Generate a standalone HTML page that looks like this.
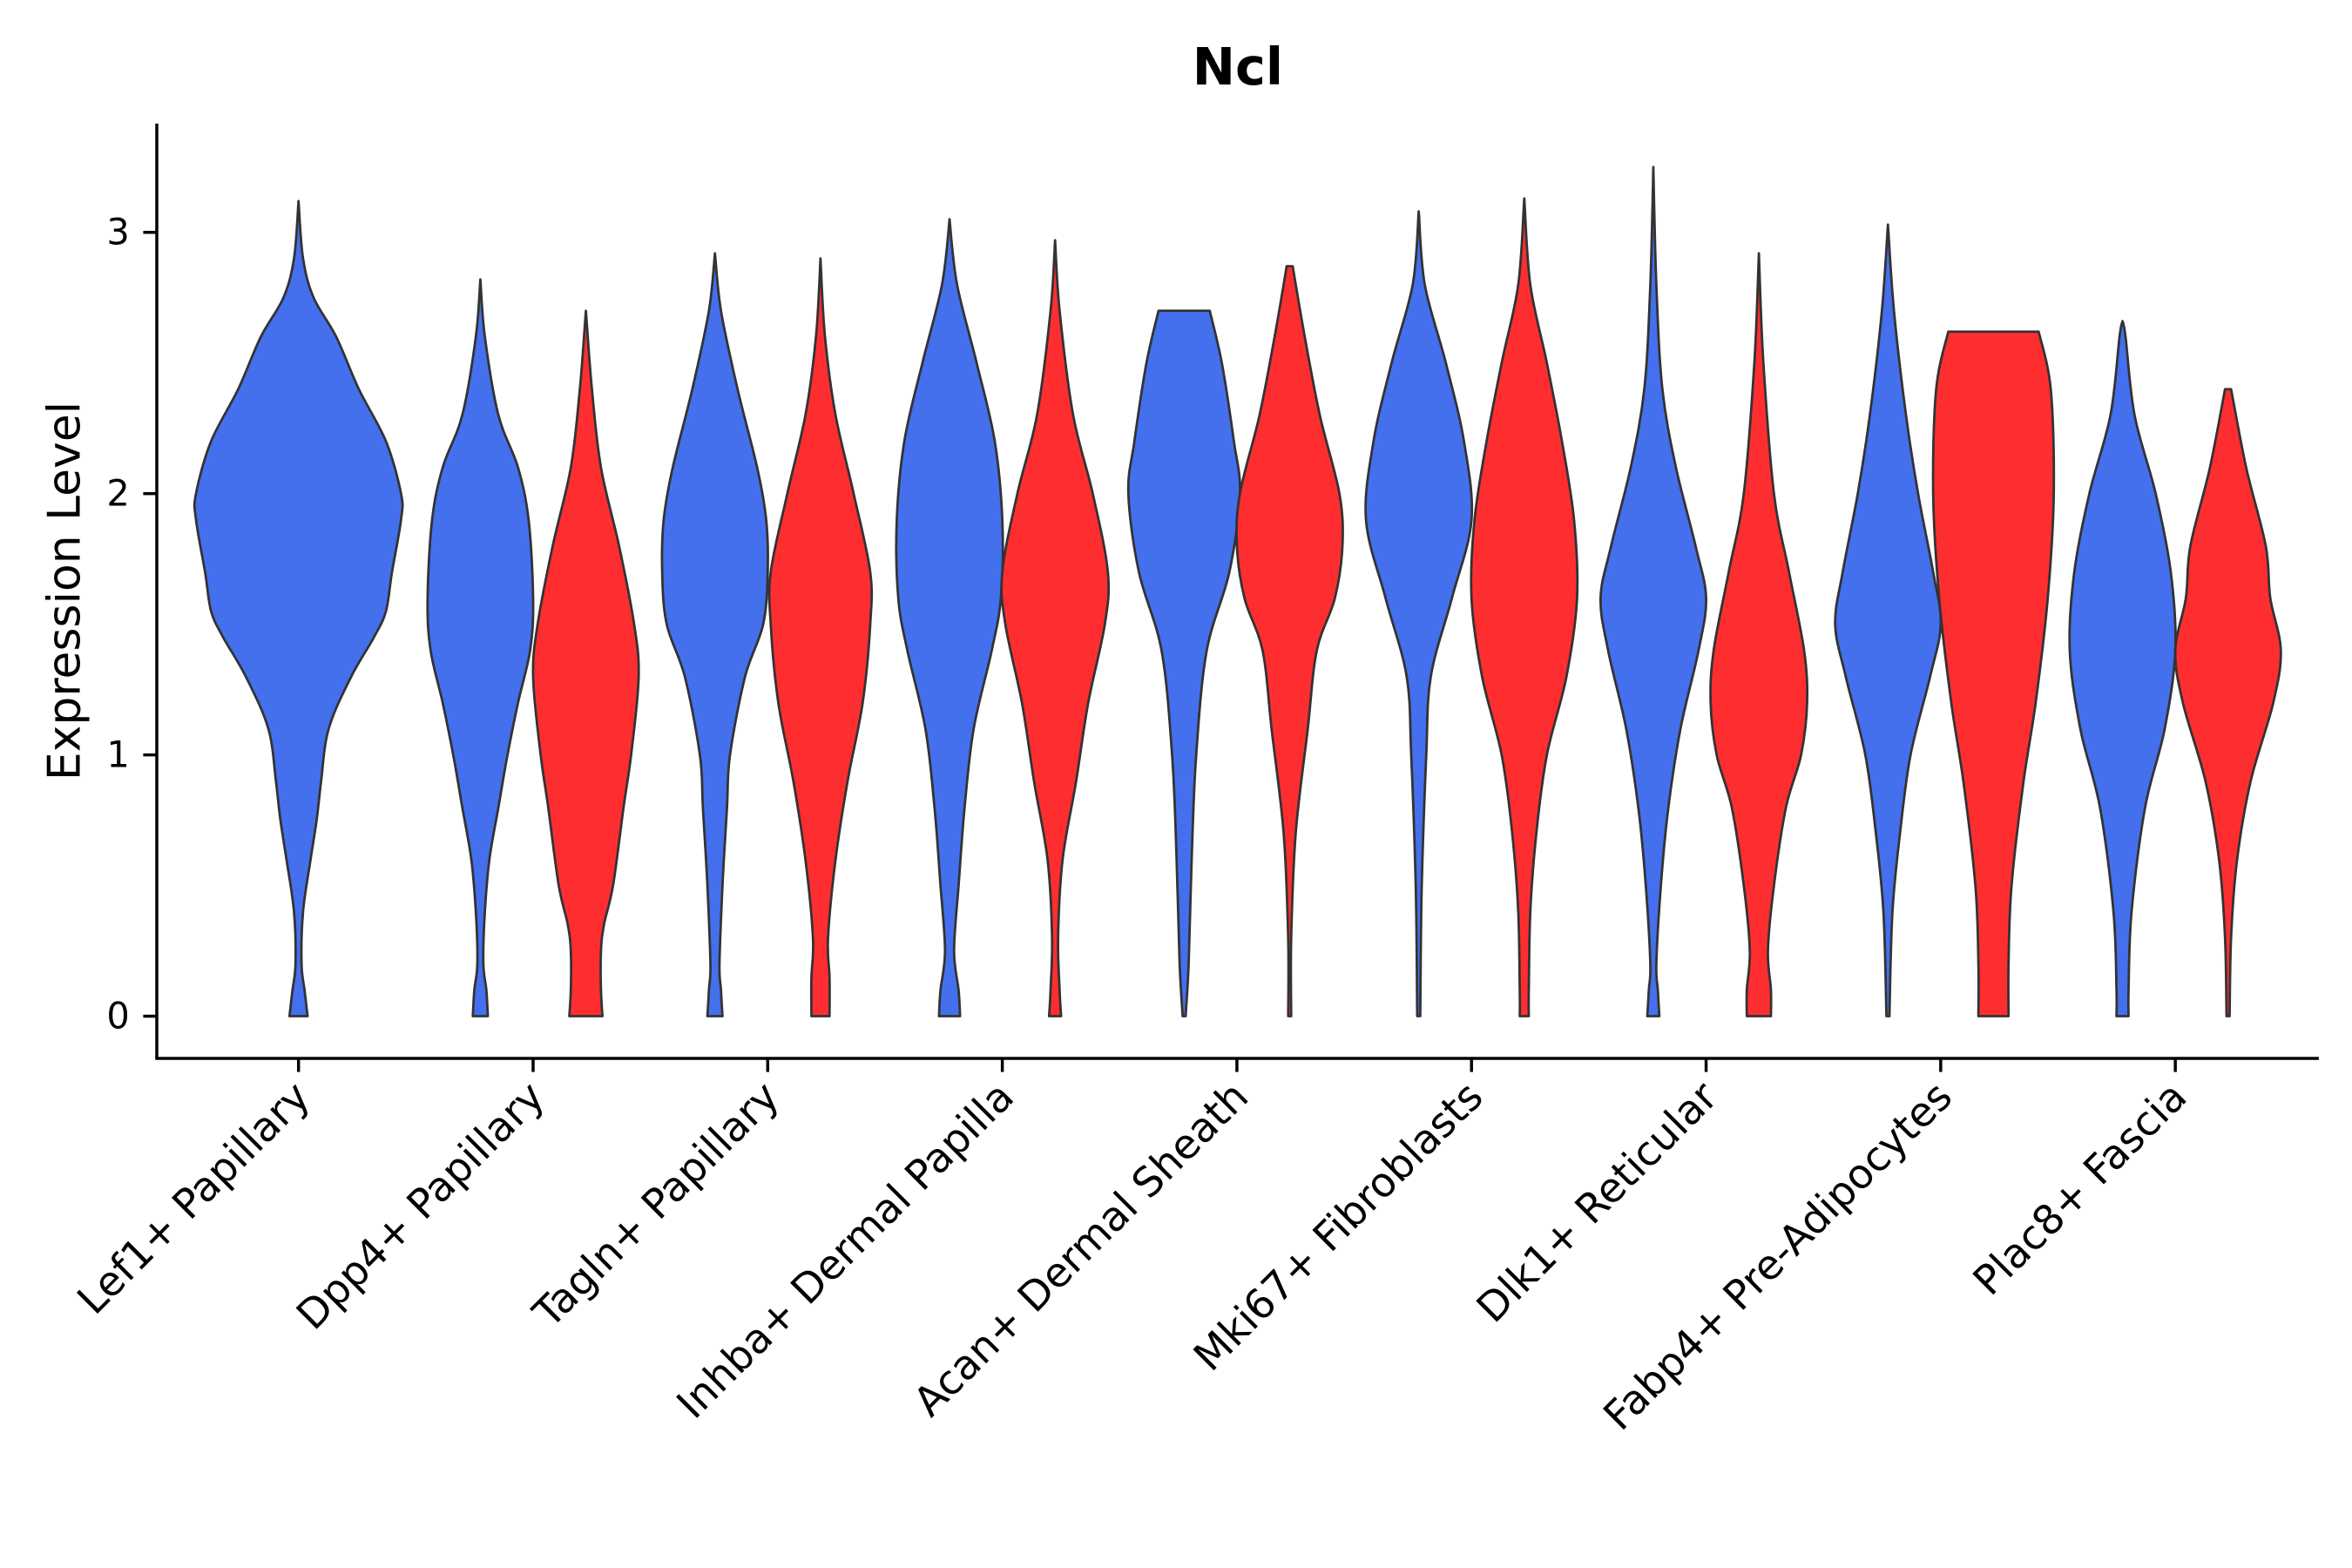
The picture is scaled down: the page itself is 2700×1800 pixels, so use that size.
<!DOCTYPE html>
<html><head><meta charset="utf-8"><style>
html,body{margin:0;padding:0;background:#fff;}
svg{display:block;font-family:"DejaVu Sans","Liberation Sans",sans-serif;}
</style></head><body>
<svg id="chart" width="2700" height="1800" viewBox="0 0 1560 1040" xmlns="http://www.w3.org/2000/svg">
<rect width="1560" height="1040" fill="#fff"/>
<text x="821" y="56" text-anchor="middle" font-size="34" font-weight="bold">Ncl</text>
<text transform="translate(53,392) rotate(-90)" text-anchor="middle" font-size="30">Expression Level</text>
<g id="marks"></g>
<line x1="104" y1="82" x2="104" y2="702" stroke="#000" stroke-width="2"/>
<line x1="103" y1="702" x2="1538" y2="702" stroke="#000" stroke-width="2"/>
<g id="axes"></g>
</svg>
<script>
const categories = ["Lef1+ Papillary","Dpp4+ Papillary","Tagln+ Papillary","Inhba+ Dermal Papilla","Acan+ Dermal Sheath","Mki67+ Fibroblasts","Dlk1+ Reticular","Fabp4+ Pre-Adipocytes","Plac8+ Fascia"];
const yTicks = [0,1,2,3];
// violin profiles: [expression value, density half-width]
const blueProfiles = [
 [[3.12,0],[2.9,3],[2.75,10],[2.6,25],[2.4,40],[2.2,58],[2.0,68],[1.9,68],[1.7,62],[1.55,58],[1.45,50],[1.3,35],[1.1,20],[0.9,15],[0.75,12],[0.6,8],[0.4,3],[0.2,2],[0.1,4],[0,6]],
 [[2.82,0],[2.6,3],[2.3,12],[2.1,25],[1.9,32],[1.6,35],[1.4,33],[1.2,25],[1.0,18],[0.8,12],[0.6,6],[0.4,3],[0.2,2],[0.1,4],[0,5]],
 [[2.92,0],[2.7,4],[2.4,15],[2.1,28],[1.9,34],[1.7,35],[1.5,32],[1.3,20],[1.0,10],[0.8,8],[0.5,5],[0.2,3],[0.1,4],[0,5]],
 [[3.05,0],[2.8,5],[2.5,18],[2.2,30],[1.9,35],[1.6,34],[1.4,28],[1.1,16],[0.8,10],[0.5,6],[0.25,3],[0.1,6],[0,7]],
 [[2.7,17],[2.5,25],[2.2,33],[2.0,37],[1.7,30],[1.4,15],[1.0,8],[0.6,5],[0.2,3],[0,1]],
 [[3.08,0],[2.8,4],[2.5,18],[2.2,30],[1.9,35],[1.6,22],[1.3,8],[1.0,5],[0.5,2],[0,1]],
 [[3.25,0],[2.8,2],[2.4,6],[2.1,15],[1.8,28],[1.6,35],[1.4,30],[1.1,18],[0.8,10],[0.5,5],[0.2,2],[0.1,3],[0,4]],
 [[3.03,0],[2.7,4],[2.3,12],[2.0,20],[1.7,30],[1.5,35],[1.3,28],[1.0,15],[0.7,8],[0.4,3],[0,1]],
 [[2.66,0],[2.6,2],[2.3,8],[2.0,22],[1.7,32],[1.4,35],[1.1,28],[0.8,15],[0.4,6],[0.1,4],[0,4]]
];
const redProfiles = [
 null,
 [[2.7,0],[2.4,4],[2.1,10],[1.8,22],[1.5,32],[1.3,35],[1.0,30],[0.8,25],[0.5,18],[0.35,12],[0.25,10],[0.1,10],[0,11]],
 [[2.9,0],[2.6,3],[2.3,10],[2.0,22],[1.7,33],[1.5,33],[1.2,28],[0.9,18],[0.6,10],[0.3,5],[0.15,6],[0,6]],
 [[2.97,0],[2.7,3],[2.3,12],[2.0,25],[1.7,35],[1.5,33],[1.2,22],[0.9,14],[0.6,5],[0.3,2],[0.1,3],[0,4]],
 [[2.87,2],[2.6,10],[2.3,20],[2.0,33],[1.8,35],[1.6,30],[1.4,18],[1.1,12],[0.7,4],[0.3,1],[0,1]],
 [[3.13,0],[2.8,4],[2.5,15],[2.2,25],[1.9,33],[1.6,35],[1.3,28],[1.0,15],[0.7,8],[0.4,4],[0.1,3],[0,3]],
 [[2.92,0],[2.5,3],[2.0,10],[1.7,20],[1.4,30],[1.2,32],[1.0,28],[0.8,18],[0.5,10],[0.25,6],[0.1,8],[0,8]],
 [[2.62,30],[2.4,38],[2.0,40],[1.6,36],[1.2,28],[0.9,20],[0.5,12],[0.2,10],[0,10]],
 [[2.4,2],[2.1,12],[1.8,25],[1.6,28],[1.4,35],[1.2,30],[0.9,15],[0.6,6],[0.3,2],[0,1]]
];
const NS="http://www.w3.org/2000/svg";
const x0=198, step=155.6, off=35;
function xScale(i){return x0+i*step;}
function yScale(v){return 674 - v*173.3;}
const marks=document.getElementById('marks'), axes=document.getElementById('axes');
function smooth(pts){
  let d='';
  for(let i=0;i<pts.length-1;i++){
    const p0=pts[Math.max(0,i-1)],p1=pts[i],p2=pts[i+1],p3=pts[Math.min(pts.length-1,i+2)];
    const c1=[p1[0]+(p2[0]-p0[0])/6,p1[1]+(p2[1]-p0[1])/6];
    const c2=[p2[0]-(p3[0]-p1[0])/6,p2[1]-(p3[1]-p1[1])/6];
    d+=' C'+c1[0].toFixed(1)+','+c1[1].toFixed(1)+' '+c2[0].toFixed(1)+','+c2[1].toFixed(1)+' '+p2[0].toFixed(1)+','+p2[1].toFixed(1);
  }
  return d;
}
function violin(prof,cx,color,name){
  const R=prof.map(p=>[cx+p[1],yScale(p[0])]);
  const L=prof.map(p=>[cx-p[1],yScale(p[0])]).reverse();
  let d='M'+R[0][0].toFixed(1)+','+R[0][1].toFixed(1)+smooth(R)+' L'+L[0][0].toFixed(1)+','+L[0][1].toFixed(1)+smooth(L)+' Z';
  const el=document.createElementNS(NS,'path');
  el.setAttribute('d',d);
  el.setAttribute('fill',color);el.setAttribute('stroke','#333');el.setAttribute('stroke-width','1.6');el.setAttribute('stroke-linejoin','round');
  
  
  marks.appendChild(el);
}
categories.forEach((c,i)=>{
  const cx=xScale(i);
  if(redProfiles[i]){violin(blueProfiles[i],cx-off,'#4470ee','violin-blue-'+i);violin(redProfiles[i],cx+off,'#fe2e30','violin-red-'+i);}
  else violin(blueProfiles[i],cx,'#4470ee','violin-blue-'+i);
  const t=document.createElementNS(NS,'line');
  t.setAttribute('x1',cx);t.setAttribute('x2',cx);t.setAttribute('y1',702);t.setAttribute('y2',711);t.setAttribute('stroke','#000');t.setAttribute('stroke-width','2');
  
  
  axes.appendChild(t);
  const tx=document.createElementNS(NS,'text');
  tx.setAttribute('transform','translate('+(cx+9)+',729) rotate(-45)');
  tx.setAttribute('text-anchor','end');tx.setAttribute('font-size','27');tx.textContent=c;
  
  
  axes.appendChild(tx);
});
yTicks.forEach(v=>{
  const y=yScale(v);
  const t=document.createElementNS(NS,'line');
  t.setAttribute('x1',95);t.setAttribute('x2',104);t.setAttribute('y1',y);t.setAttribute('y2',y);t.setAttribute('stroke','#000');t.setAttribute('stroke-width','2');
  
  
  axes.appendChild(t);
  const tx=document.createElementNS(NS,'text');
  tx.setAttribute('x',86);tx.setAttribute('y',y+8);tx.setAttribute('text-anchor','end');tx.setAttribute('font-size','24');tx.textContent=v;
  
  
  axes.appendChild(tx);
});
</script>
</body></html>
